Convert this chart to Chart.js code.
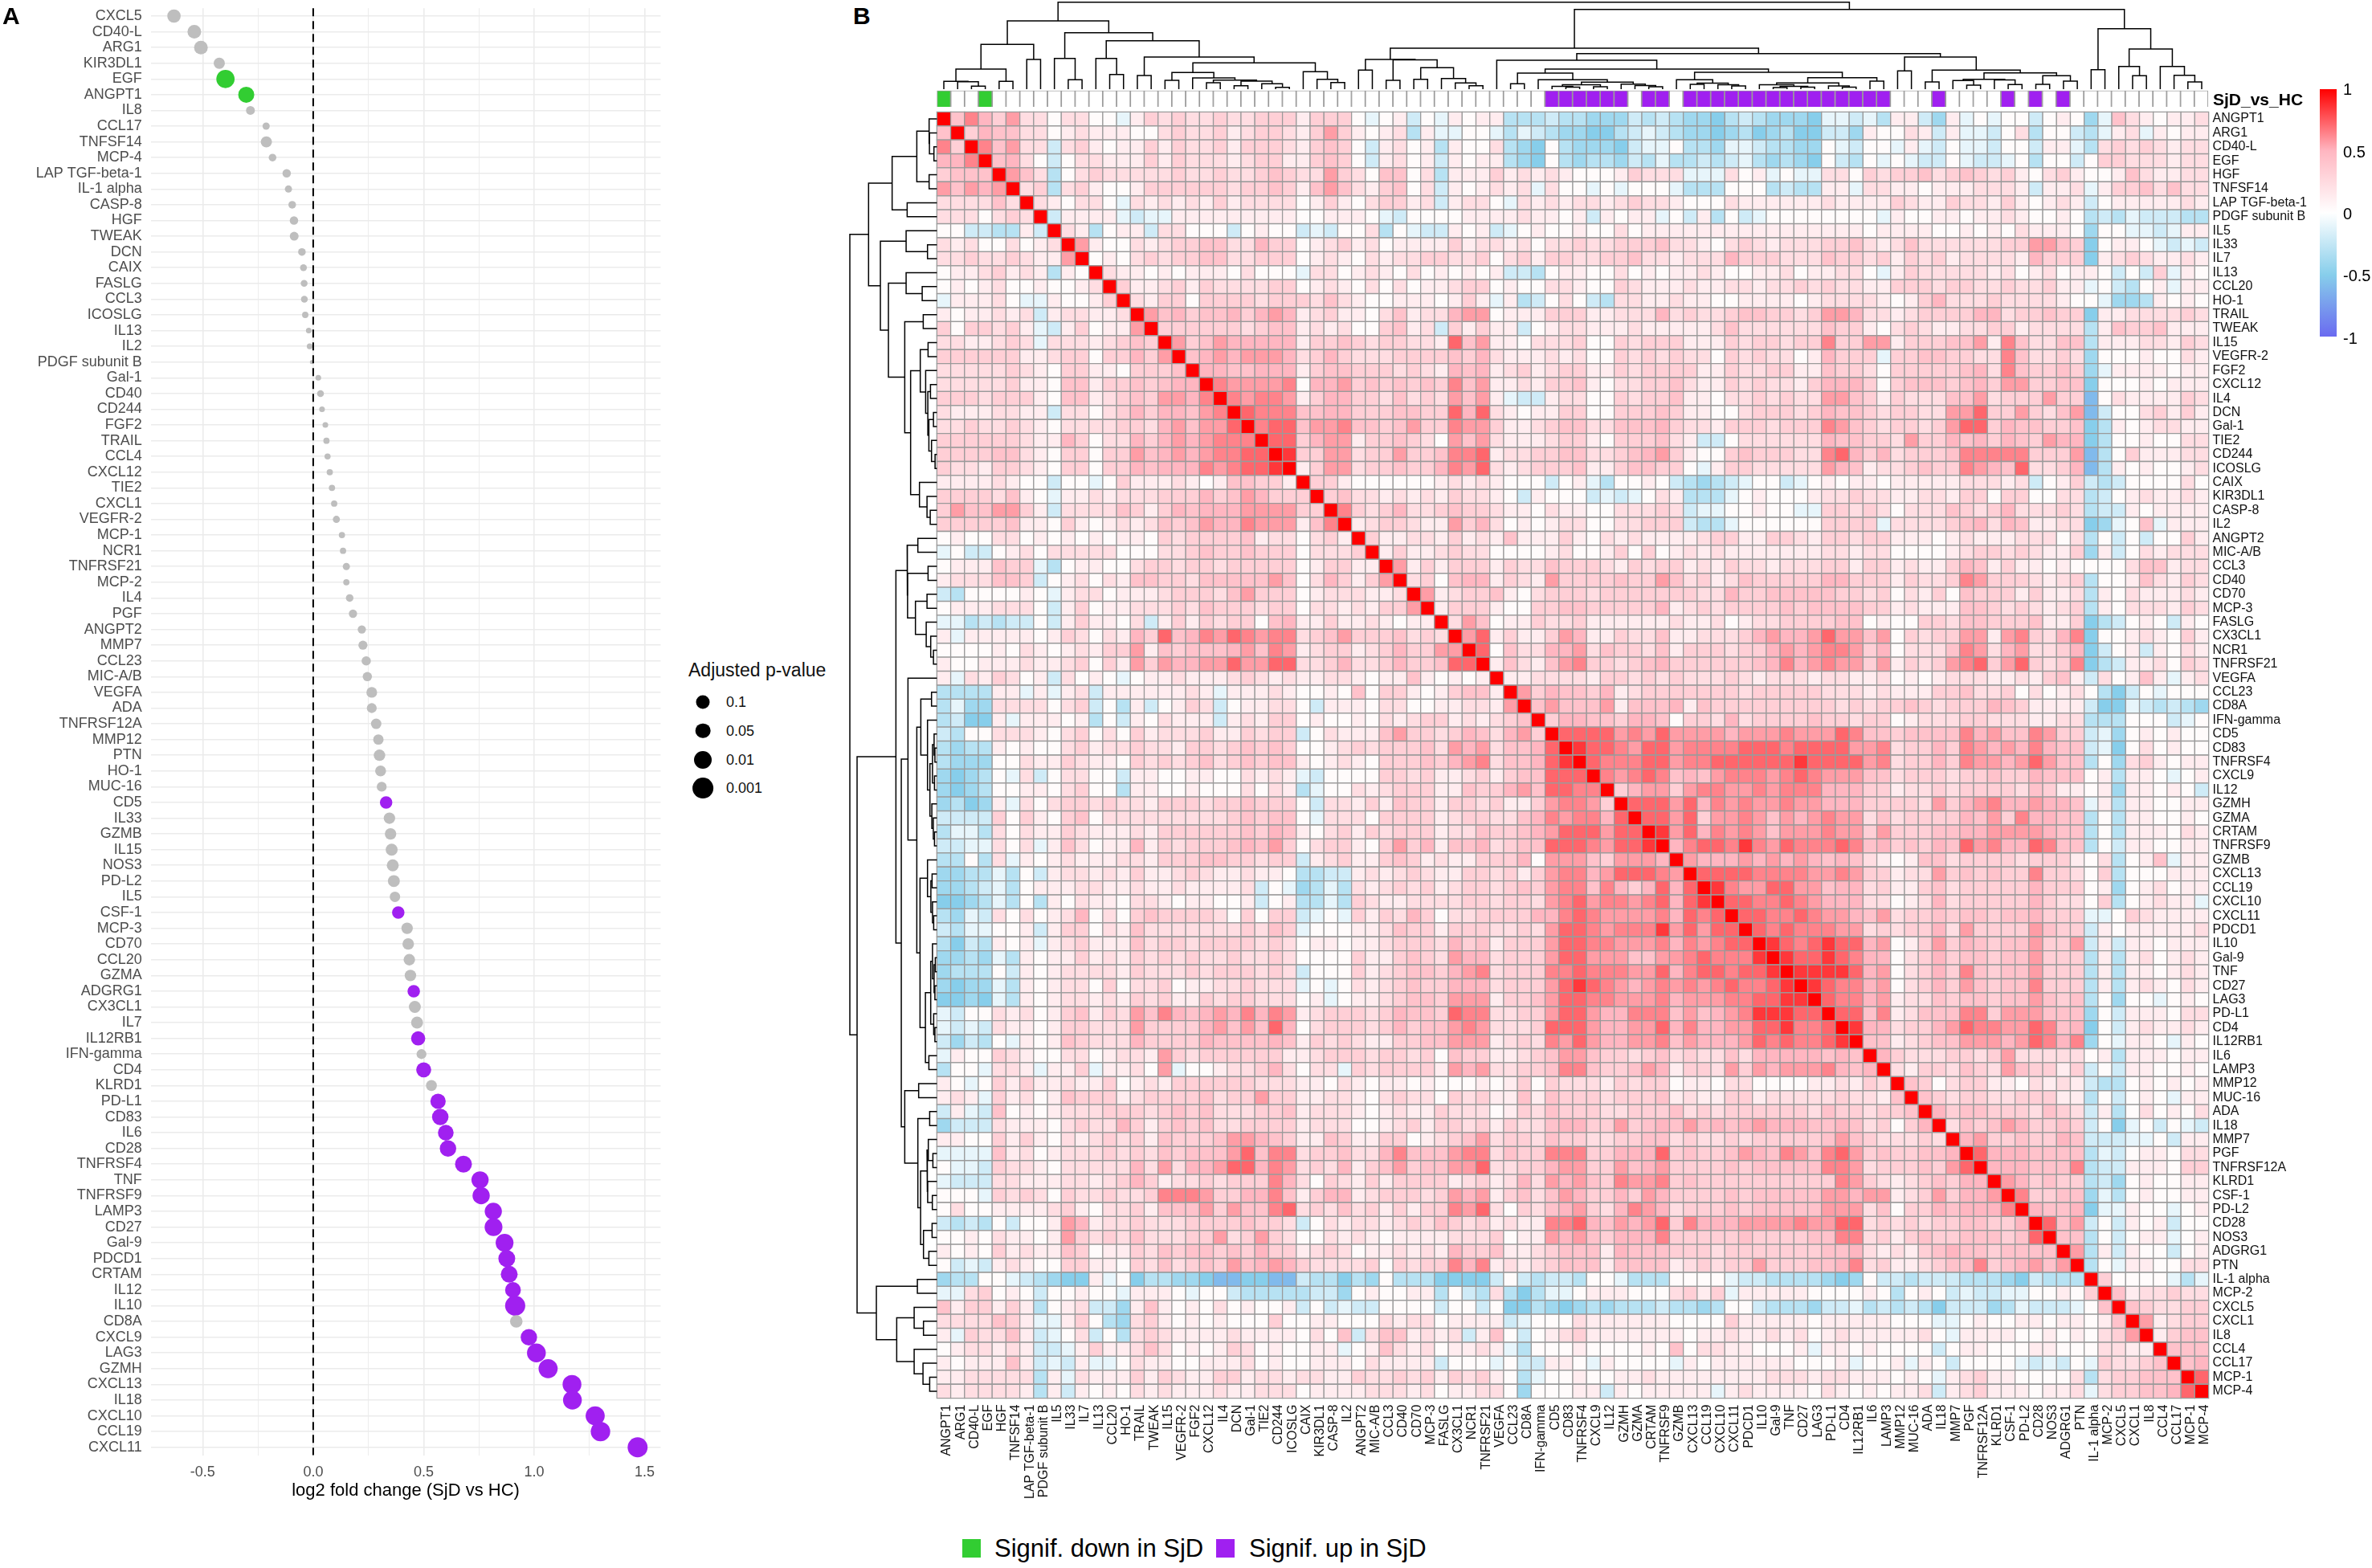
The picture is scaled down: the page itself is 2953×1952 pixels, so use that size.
<!DOCTYPE html>
<html>
<head>
<meta charset="utf-8">
<title>SjD vs HC</title>
<script src="https://cdn.jsdelivr.net/npm/chart.js@4"></script>
<style>
  html, body { margin: 0; background: #fff; width: 2953px; height: 1952px; overflow: hidden; font-family: "Liberation Sans", sans-serif; }
  canvas { position: absolute; }
  .txt { position: absolute; white-space: nowrap; line-height: 1; color: #000; }
  .panel { font-weight: bold; font-size: 30px; }
  .dot { position: absolute; border-radius: 50%; background: #000; transform: translate(-50%, -50%); }
  .swatch { position: absolute; width: 23px; height: 23px; top: 1916px; }
  #colorbar { position: absolute; left: 2888px; top: 111px; width: 21px; height: 308px;
    background: linear-gradient(to bottom, #ff0000, #ffb6c1 25%, #ffffff 50%, #87ceeb 75%, #6a6af0); }
</style>
</head>
<body>
<canvas id="fcChart" width="850" height="1930" style="left:0;top:-30px"></canvas>
<canvas id="heatChart" width="1800" height="1780" style="left:1100px;top:120px"></canvas>
<canvas id="annotChart" width="1583" height="21" style="left:1166px;top:112px"></canvas>
<canvas id="dendroTop" width="1600" height="112" style="left:1160px;top:0"></canvas>
<canvas id="dendroLeft" width="120" height="1620" style="left:1050px;top:130px"></canvas>

<div class="txt panel" style="left:3px;top:5px">A</div>
<div class="txt panel" style="left:1062px;top:5px">B</div>
<div class="txt" style="left:857px;top:823px;font-size:23px;color:#111">Adjusted p-value</div>
<div id="sizeLegend"></div>
<div class="txt" style="left:2755px;top:113px;font-size:21px;font-weight:bold">SjD_vs_HC</div>
<div id="colorbar"></div>
<div class="txt" style="left:2917px;top:101px;font-size:20px">1</div>
<div class="txt" style="left:2917px;top:179px;font-size:20px">0.5</div>
<div class="txt" style="left:2917px;top:256px;font-size:20px">0</div>
<div class="txt" style="left:2917px;top:333px;font-size:20px">-0.5</div>
<div class="txt" style="left:2917px;top:411px;font-size:20px">-1</div>
<div class="swatch" style="left:1198px;background:#32cd32"></div>
<div class="txt" style="left:1238px;top:1912px;font-size:31px">Signif. down in SjD</div>
<div class="swatch" style="left:1514px;background:#a020f0"></div>
<div class="txt" style="left:1555px;top:1912px;font-size:31px">Signif. up in SjD</div>

<script>
// panel A, top to bottom
const fcProteins = ["CXCL5","CD40-L","ARG1","KIR3DL1","EGF","ANGPT1","IL8","CCL17","TNFSF14","MCP-4","LAP TGF-beta-1","IL-1 alpha","CASP-8","HGF","TWEAK","DCN","CAIX","FASLG","CCL3","ICOSLG","IL13","IL2","PDGF subunit B","Gal-1","CD40","CD244","FGF2","TRAIL","CCL4","CXCL12","TIE2","CXCL1","VEGFR-2","MCP-1","NCR1","TNFRSF21","MCP-2","IL4","PGF","ANGPT2","MMP7","CCL23","MIC-A/B","VEGFA","ADA","TNFRSF12A","MMP12","PTN","HO-1","MUC-16","CD5","IL33","GZMB","IL15","NOS3","PD-L2","IL5","CSF-1","MCP-3","CD70","CCL20","GZMA","ADGRG1","CX3CL1","IL7","IL12RB1","IFN-gamma","CD4","KLRD1","PD-L1","CD83","IL6","CD28","TNFRSF4","TNF","TNFRSF9","LAMP3","CD27","Gal-9","PDCD1","CRTAM","IL12","IL10","CD8A","CXCL9","LAG3","GZMH","CXCL13","IL18","CXCL10","CCL19","CXCL11"];
const log2fc = [-0.63,-0.538,-0.508,-0.425,-0.397,-0.303,-0.284,-0.213,-0.212,-0.184,-0.12,-0.112,-0.095,-0.087,-0.086,-0.051,-0.044,-0.041,-0.04,-0.036,-0.02,-0.016,-0.006,0.023,0.033,0.04,0.055,0.06,0.065,0.075,0.085,0.095,0.105,0.13,0.135,0.15,0.15,0.165,0.18,0.22,0.225,0.24,0.245,0.265,0.265,0.285,0.295,0.30,0.305,0.31,0.33,0.345,0.35,0.355,0.36,0.365,0.37,0.385,0.425,0.43,0.435,0.44,0.455,0.46,0.47,0.475,0.49,0.50,0.535,0.565,0.575,0.60,0.61,0.68,0.755,0.76,0.815,0.816,0.866,0.876,0.887,0.904,0.914,0.919,0.976,1.01,1.063,1.171,1.173,1.276,1.30,1.468];
// -log10 adjusted p
const negLogP = [0.95,1.0,1.0,0.56,2.18,1.56,0.25,0.11,0.56,0.14,0.21,0.11,0.14,0.21,0.25,0.14,0.085,0.085,0.085,0.06,0.03,0.03,0,0.03,0.085,0.03,0.03,0.055,0.045,0.055,0.055,0.055,0.105,0.055,0.055,0.105,0.055,0.135,0.195,0.195,0.27,0.3,0.3,0.49,0.37,0.44,0.44,0.6,0.51,0.37,0.77,0.6,0.6,0.68,0.68,0.68,0.44,0.77,0.6,0.6,0.6,0.6,0.77,0.68,0.68,1.12,0.37,1.3,0.51,1.38,1.67,1.48,1.67,1.78,1.87,1.87,1.87,2.05,2.05,1.78,1.78,1.48,2.8,0.78,1.67,2.35,2.45,2.35,2.35,2.45,2.56,2.75];
const sigDown = ["EGF","ANGPT1"];
const sigUp = ["CD5","CSF-1","ADGRG1","IL12RB1","CD4","PD-L1","CD83","IL6","CD28","TNFRSF4","TNF","TNFRSF9","LAMP3","CD27","Gal-9","PDCD1","CRTAM","IL12","IL10","CXCL9","LAG3","GZMH","CXCL13","IL18","CXCL10","CCL19","CXCL11"];
const fcTicks = [-0.5,-0.25,0,0.25,0.5,0.75,1,1.25,1.5];
const pLegend = [0.1,0.05,0.01,0.001];

// panel B, clustered order
const heatLabels = ["ANGPT1","ARG1","CD40-L","EGF","HGF","TNFSF14","LAP TGF-beta-1","PDGF subunit B","IL5","IL33","IL7","IL13","CCL20","HO-1","TRAIL","TWEAK","IL15","VEGFR-2","FGF2","CXCL12","IL4","DCN","Gal-1","TIE2","CD244","ICOSLG","CAIX","KIR3DL1","CASP-8","IL2","ANGPT2","MIC-A/B","CCL3","CD40","CD70","MCP-3","FASLG","CX3CL1","NCR1","TNFRSF21","VEGFA","CCL23","CD8A","IFN-gamma","CD5","CD83","TNFRSF4","CXCL9","IL12","GZMH","GZMA","CRTAM","TNFRSF9","GZMB","CXCL13","CCL19","CXCL10","CXCL11","PDCD1","IL10","Gal-9","TNF","CD27","LAG3","PD-L1","CD4","IL12RB1","IL6","LAMP3","MMP12","MUC-16","ADA","IL18","MMP7","PGF","TNFRSF12A","KLRD1","CSF-1","PD-L2","CD28","NOS3","ADGRG1","PTN","IL-1 alpha","MCP-2","CXCL5","CXCL1","IL8","CCL4","CCL17","MCP-1","MCP-4"];

// what each matrix letter stands for: 0-9 positive shades, a-f negative shades
const positiveLevels = [0.03,0.13,0.23,0.33,0.42,0.5,0.57,0.64,0.72,0.85];
const negativeLevels = [-0.1,-0.2,-0.3,-0.4,-0.5,-0.6];

// upper triangle of the correlation matrix, one string per row, cells right of the diagonal,
// split at every tenth column
const corrUpper = [
"475362202 200a132322 3223331333 0a01b0a101 1cccbccddd bcbcddecbc dddeaabac1 1bd1a0a00b 010da4210112",
"35442201 2111002322 3123321363 1012c1aa00 acabcddeec babcddedce dceebbd100 21b1aab02c 00bca12a1011",
"74622b2 3101131322 3133321343 0b1201c100 2cde0cddde baa0ccdaab ccdd0ab00a 1ab0aab00b 11ac23232122",
"4520b0 2211131322 2123311343 0b1201b101 1cde0cdccd bcaccbcbac dcde0bc0a0 abb0abba0c 00b033222122",
"642c0 2322222322 3223432263 204402c111 3121210001 3222aaa201 a0aa220323 3423432310 231001421122",
"23c2 3100133333 3233431464 213402b101 212a200a0a 000accc000 cbcc11a221 101112221b 112a13342422",
"210 220a212121 3122220131 023312b122 0a21212212 3221000211 1111211113 2113221310 121b01111121",
"b1 111abaa111 1111110011 10ab000011 1121101b10 11a0b1c0ba 00000000a1 0011011210 010cbcabbbcc",
"2 1c011b2200 0b0100bab0 02c0abb101 ba01001002 0111111111 1111111011 1100101021 110d00aaba11",
"6100212334 4225330123 1201111312 2120223223 3342210232 1222334212 4222222336 643e0110abab",
"010232334 4223330121 0212233223 0231332233 4221222533 3222433231 3231222215 333e12321121",
"21101011 102000a220 1210201010 1bbc011002 0101121001 12011220a1 3222221201 20110b0b3a10",
"3112313 2222330121 0202011233 0100221003 2111211221 2232322113 3323322322 311a0bc01a11",
"213303 3332333242 1001110131 a1cb020bc2 2112110011 1101222210 1352223222 2100addc1010",
"64534 4535651231 1024122566 0111333112 2252322344 3323665221 2333355233 433e11222232",
"3333 3323441212 003412b313 11b0122111 2111112422 2222433102 3211223312 222c14334111",
"634 6555551334 3233221846 1102223003 2333111323 3233733661 3334461742 244c11122132",
"45 6566652353 2223333435 2111212003 2323220323 22015333a3 3443322742 232d00010021",
"5 5445551344 3332321545 1231233113 2333311322 3311433203 3333452743 343da1111011",
"7666670556 3434343746 1121334102 2334211323 2213555303 4443453663 344e00010111",
"767761355 3324232646 1abb122003 2334110223 2322664313 2224462333 633f02111132",
"87774455 3334433858 2101133003 3343110023 3323544323 3226683363 246fb0023131",
"7884667 4434633766 3112344224 4453221333 2333764323 3236883544 334ec1012211",
"883566 1334320646 2111233103 33421bb022 2222544332 6335453543 655ec0010022",
"93366 2336334778 1223344223 4563100343 3322785352 3334777773 336fc0311122",
"1366 2334335768 2123334113 44330a1332 2222654122 3433765482 235fc1010012",
"331 0000001212 1000b01ac0 010bcdcba0 0ba0101101 111122212b 013bcb000020",
"34 2212121322 10b1000bab a021ccca01 0001223221 1221330330 022cb0121121",
"7 3235223433 2110211002 2232baa001 00aa332320 2224323522 232cbb101111",
"1233211635 2010122002 2333bcca00 00003333a2 2223452541 122eda04a111",
"311221312 1411131021 2111123311 3321332331 1101211122 202c0b0b0031",
"13112322 0000120013 0301212111 1111221220 0001233232 113d1b021222",
"6131333 1322433321 3233121322 1222331331 2113541311 010000244122",
"230455 1321633334 3364231243 3333553331 3223763332 123c00142132",
"61233 4102333233 3333322533 4444433230 2130433313 112c10211121",
"1333 1003344333 3351232333 3434444331 2111443232 123c10222132",
"264 0113223111 1112112012 2333344010 0332443334 113ecb010b10",
"68 1311365113 2241122235 6556866460 3233661673 257e00121031",
"8 0422556243 3241333233 5656776350 2224762562 235eb01b1021",
"1421467332 3453333334 5756766361 3236783683 237ecb112032",
"112222133 2323222321 2221221120 1012221121 341b20141a12",
"63544351 2333333323 3333222121 1133422302 0120ceb0a000",
"4644461 4445143333 3333323233 4323335431 111beeabcbcd",
"355443 5540332523 3334332330 1222332221 122ccc000ba0",
"88886 7686666566 6766687443 4444756447 633bad010100",
"9887 6886777788 8788886672 3353765657 544bae020100",
"877 7886778888 8898888672 3353766568 644c0d231011",
"76 7874546777 6787666442 3332334335 44401c110a01",
"3 5663677667 6777555331 2232333324 31101d11010b",
"8886857676 6766555333 3263567556 554a1c110011",
"886836676 4656766242 3333546375 544c0c110010",
"96857676 4666766363 3344556666 544c0c111021",
"5788797 6877787453 4354867558 744c0b110011",
"655565 6565454210 1442333323 33102c014a11",
"88887 7776676331 2263434337 33203c000111",
"9766 8866455231 1342333335 33301d012011",
"887 7876555220 1252333335 32203c01211a",
"88 7787665462 3343443445 333aa0321111",
"8 7877766232 3352633336 433b10111112",
"9878988560 1363543446 336b1b110111",
"988987550 2353443446 333c1c120121",
"99998560 2353743446 333c1c110121",
"9877560 2353643447 333c1c121021",
"877561 2243443446 434c0d00a010",
"88471 2444773666 444d0b111022",
"9552 3356877668 745e0b121121",
"441 2344666568 757d0a110a10",
"53 2223323622 22201c111011",
"2 1332432643 313b0b110010",
"4302331102 121bcc010101",
"432332233 311c0b010a11",
"53443332 432b1c020102",
"2434653 343b0ea0b0ab",
"563343 354bbbaa0b11",
"85554 444cab011022",
"5554 447cbb111033",
"653 433cbd010011",
"73 344dac010011",
"5 445eaa100a01",
"846b0b101b00",
"44c0b011a01",
"6c1b100b01",
"c0a110022",
"30000aca",
"4122322",
"432233",
"61233",
"1344",
"444",
"45",
"8",
""
];

// clustering shared by the top and left dendrograms: [height, left, right], numbers are leaves
const branch0to7 = [55.7, [25, [9.7, 0, [9.3, 1, [3.7, 2, 3]]], [9.7, 4, 5]], [37, 6, 7]];
const branch16to25 = [20.7, [11, 16, 17], [14, 18, [11.3, [8, 19, 20], [10, [4.3, 21, 22], [6.7, 23, [2.3, 24, 25]]]]]];
const branch14to29 = [40, [17, 14, 15], [32.7, branch16to25, [21.7, 26, [12.3, 27, [8.3, 28, 29]]]]];
const branch0to29 = [85, branch0to7, [70.3, [38.3, 8, [11.7, 9, 10]], [60.3, [38.3, 11, [18.3, 12, 13]], branch14to29]]];
const branch30to39 = [37, [23.7, 30, 31], [36.5, [11, 32, 33], [26.7, [12.3, 34, 35], [13.3, 36, [7.7, 37, [4.3, 38, 39]]]]]];
const branch44to52 = [8.7, [5.5, [3.5, 44, [2.5, 45, 46]], [3, 47, 48]], [6.3, 49, [4.5, 50, [3, 51, 52]]]];
const branch53to58 = [11.7, 53, [7.5, [6, 54, 55], [5.5, 56, [4, 57, 58]]]];
const branch59to68 = [14.3, [7.7, [5.5, 59, [3.5, [2, 60, 61], [2.5, 62, 63]]], [4, 64, [2.5, 65, 66]]], [10, 67, 68]];
const branch40to68 = [36, 40, [25, [20, [6.7, 41, 42], [11.7, 43, branch44to52]], [21, branch53to58, branch59to68]]];
const branch73to82 = [20.3, [12.3, [10.7, 73, [5, 74, 75]], [11.5, 76, [5.7, 77, 78]]], [16.7, [6, 79, 80], [10, 81, 82]]];
const branch69to82 = [40, [22.7, 69, 70], [23.7, [9, 71, 72], branch73to82]];
const branch83to91 = [75.3, [24.3, 83, 84], [50, [28.3, 85, [16.7, 86, 87]], [28.3, 88, [17.3, 89, [9, 90, 91]]]]];
const dendroTree = [108.3, branch0to29, [99.3, [51, branch30to39, [44.3, branch40to68, branch69to82]], branch83to91]];

Chart.defaults.font.family = '"Liberation Sans", sans-serif';
Chart.defaults.animation = false;
Chart.defaults.responsive = false;
Chart.defaults.devicePixelRatio = 1;
Chart.defaults.events = [];
Chart.defaults.plugins.legend.display = false;
Chart.defaults.plugins.tooltip.enabled = false;

const GREEN = "#32cd32", PURPLE = "#a020f0", GREY = "#bebebe", CELL_LINE = "#9a9a9a";

const colourStops = [[-1, [106,106,240]], [-0.5, [135,206,235]], [0, [255,255,255]], [0.5, [255,182,193]], [1, [255,0,0]]];
const corrColour = (v) => {
  for (let k = 1; k < colourStops.length; k++) {
    const [v0, c0] = colourStops[k - 1], [v1, c1] = colourStops[k];
    if (v <= v1) {
      const t = (v - v0) / (v1 - v0);
      return `rgb(${c0.map((c, i) => Math.round(c + (c1[i] - c) * t)).join(",")})`;
    }
  }
  return "rgb(255,0,0)";
};

const levelOf = (ch) => (ch >= "0" && ch <= "9") ? positiveLevels[Number(ch)] : negativeLevels[ch.charCodeAt(0) - 97];

const buildMatrix = () => {
  const n = heatLabels.length;
  const m = heatLabels.map(() => new Array(n).fill(0));
  corrUpper.forEach((row, i) => {
    m[i][i] = 1;
    let start = i + 1;
    row.split(" ").forEach((group) => {
      [...group].forEach((ch, k) => {
        if (start + k < n) {
          m[i][start + k] = levelOf(ch);
          m[start + k][i] = levelOf(ch);
        }
      });
      start = (Math.floor(start / 10) + 1) * 10;
    });
  });
  return m;
};

const fcColour = (name) => sigDown.includes(name) ? GREEN : sigUp.includes(name) ? PURPLE : GREY;
const dotDiameter = (logP) => 5 + 12 * Math.sqrt(logP);

// panel A
const zeroLine = {
  id: "zeroLine",
  afterDatasetsDraw(chart) {
    const { ctx, chartArea, scales } = chart;
    const x = scales.x.getPixelForValue(0);
    ctx.save();
    ctx.strokeStyle = "#000";
    ctx.lineWidth = 2;
    ctx.setLineDash([10, 6]);
    ctx.beginPath();
    ctx.moveTo(x, chartArea.top);
    ctx.lineTo(x, chartArea.bottom);
    ctx.stroke();
    ctx.restore();
  },
};

new Chart(document.getElementById("fcChart"), {
  type: "scatter",
  plugins: [zeroLine],
  data: {
    datasets: [{
      data: fcProteins.map((name, i) => ({ x: log2fc[i], y: name })),
      pointBackgroundColor: fcProteins.map(fcColour),
      pointBorderWidth: 0,
      pointRadius: negLogP.map((v) => dotDiameter(v) / 2),
    }],
  },
  options: {
    layout: { padding: { left: 0, top: 40.2, right: 27.6, bottom: 8.5 } },
    scales: {
      x: {
        type: "linear",
        min: -0.735,
        max: 1.572,
        afterBuildTicks: (scale) => { scale.ticks = fcTicks.map((value) => ({ value })); },
        afterFit: (scale) => { scale.height = 80; },
        border: { display: false },
        grid: {
          color: "#ebebeb",
          drawTicks: false,
          lineWidth: (ctx) => (ctx.tick && ctx.tick.value * 2 % 1 === 0 ? 1.6 : 0.9),
        },
        ticks: {
          padding: 11,
          color: "#4d4d4d",
          font: { size: 18 },
          autoSkip: false,
          maxRotation: 0,
          callback: (v) => (v * 2 % 1 === 0 ? v.toFixed(1) : ""),
        },
        title: {
          display: true,
          text: "log2 fold change (SjD vs HC)",
          color: "#000",
          font: { size: 22 },
          padding: { top: 0, bottom: 22 },
        },
      },
      y: {
        type: "category",
        labels: fcProteins,
        offset: true,
        afterFit: (scale) => { scale.width = 187.7; },
        border: { display: false },
        grid: { color: "#ebebeb", lineWidth: 1.6, drawTicks: false, offset: false },
        ticks: { padding: 11, color: "#4d4d4d", font: { size: 18 }, autoSkip: false },
      },
    },
  },
});

document.getElementById("sizeLegend").innerHTML = pLegend.map((p, i) => {
  const d = dotDiameter(-Math.log10(p));
  const y = 874 + i * 35.8;
  return `<div class="dot" style="left:875px;top:${y}px;width:${d}px;height:${d}px"></div>` +
    `<div class="txt" style="left:904px;top:${y - 9}px;font-size:18px;color:#111">${p}</div>`;
}).join("");

// panel B, heatmap
const corr = buildMatrix();
const cellData = [], cellColours = [];
heatLabels.forEach((rowName, i) => {
  heatLabels.forEach((colName, j) => {
    cellData.push({ x: colName, y: rowName });
    cellColours.push(corrColour(corr[i][j]));
  });
});

new Chart(document.getElementById("heatChart"), {
  type: "scatter",
  data: {
    datasets: [{
      data: cellData,
      pointStyle: "rect",
      pointRadius: 17.3 / Math.SQRT2,
      pointBackgroundColor: cellColours,
      pointBorderColor: CELL_LINE,
      pointBorderWidth: 1.3,
      clip: false,
    }],
  },
  options: {
    layout: { padding: { left: 66.4, top: 19.3, right: 0.4, bottom: 9.4 } },
    scales: {
      x: {
        type: "category",
        labels: heatLabels,
        offset: true,
        afterFit: (scale) => { scale.height = 150; },
        border: { display: false },
        grid: { display: false, drawTicks: false },
        ticks: { padding: 8, labelOffset: 4, color: "#111", font: { size: 16 }, autoSkip: false, minRotation: 90, maxRotation: 90 },
      },
      y: {
        type: "category",
        labels: heatLabels,
        offset: true,
        position: "right",
        afterFit: (scale) => { scale.width = 150; },
        border: { display: false },
        grid: { display: false, drawTicks: false },
        ticks: { padding: 5, color: "#111", font: { size: 16 }, autoSkip: false },
      },
    },
  },
});

// annotation strip
new Chart(document.getElementById("annotChart"), {
  type: "bar",
  data: {
    labels: heatLabels,
    datasets: [{
      data: heatLabels.map(() => 1),
      backgroundColor: heatLabels.map((name) => sigDown.includes(name) ? GREEN : sigUp.includes(name) ? PURPLE : "#fff"),
      borderColor: CELL_LINE,
      borderWidth: 1.2,
      barPercentage: 1,
      categoryPercentage: 1,
    }],
  },
  options: {
    layout: { padding: { left: 0.4, right: 0, top: 0.7, bottom: 0 } },
    scales: { x: { display: false }, y: { display: false, min: 0, max: 1 } },
  },
});

// dendrograms, one U per merge
const dendroSegments = (tree) => {
  const segments = [];
  const walk = (node) => {
    if (typeof node === "number") return { pos: node, h: 0 };
    const [h, left, right] = node;
    const a = walk(left), b = walk(right);
    segments.push([[a.pos, a.h], [a.pos, h], [b.pos, h], [b.pos, b.h]]);
    return { pos: (a.pos + b.pos) / 2, h };
  };
  walk(tree);
  return segments;
};

const dendroDatasets = (toPoint) => dendroSegments(dendroTree).map((seg) => ({
  data: seg.map(toPoint),
  showLine: true,
  borderColor: "#000",
  borderWidth: 1.5,
  pointRadius: 0,
  clip: false,
}));

const hidden = { display: false };
new Chart(document.getElementById("dendroTop"), {
  type: "scatter",
  data: { datasets: dendroDatasets(([pos, h]) => ({ x: pos, y: h })) },
  options: {
    layout: { padding: { left: 6.4, right: 10.4, top: 2.7, bottom: 1 } },
    scales: {
      x: { ...hidden, min: -0.5, max: 91.5 },
      y: { ...hidden, min: 0, max: 108.3 },
    },
  },
});
new Chart(document.getElementById("dendroLeft"), {
  type: "scatter",
  data: { datasets: dendroDatasets(([pos, h]) => ({ x: h, y: pos })) },
  options: {
    layout: { padding: { left: 8, right: 3.6, top: 9.3, bottom: 9.4 } },
    scales: {
      x: { ...hidden, min: 0, max: 108.3, reverse: true },
      y: { ...hidden, min: -0.5, max: 91.5, reverse: true },
    },
  },
});
</script>
</body>
</html>
